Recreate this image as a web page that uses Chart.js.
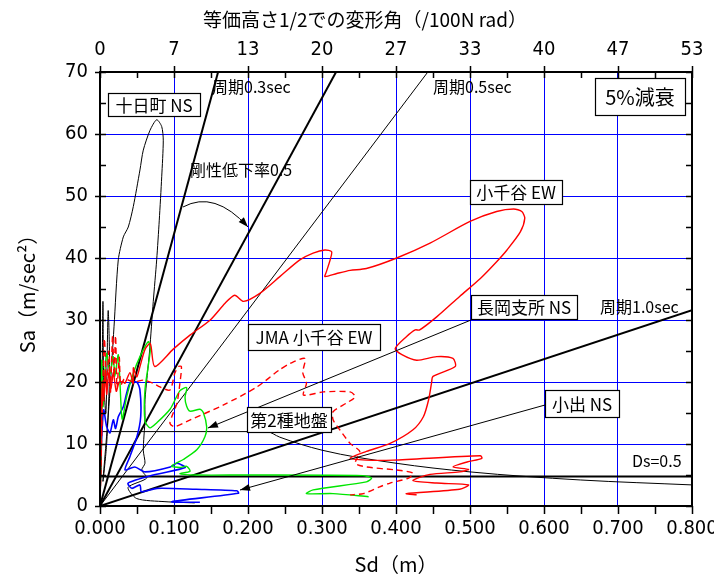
<!DOCTYPE html>
<html><head><meta charset="utf-8">
<script src="https://cdn.jsdelivr.net/npm/chart.js@4.4.1/dist/chart.umd.min.js"></script>
<style>html,body{margin:0;padding:0;background:#fff}canvas{display:block}</style>
</head><body>
<canvas id="c" width="714" height="576"></canvas>
<script>
// ---------- tick labels ----------
const topTickLabels = ['0','7','13','20','27','33','40','47','53'];

// ---------- response curves (Sd [m], Sa [m/s2]) ----------
const tokamachiNS = [[0,0],[0.002,8],[0.003,22],[0.004,33],[0.005,20],[0.008,15],[0.011,31.5],[0.013,22],[0.009,10],[0.004,4],[0.012,16],[0.019,29],[0.0247,39.7],[0.0315,43.4],[0.0382,45],[0.045,48.3],[0.054,54.2],[0.0585,57.4],[0.0676,60.6],[0.0766,62.3],[0.0834,61.2],[0.0855,59],[0.0834,53.1],[0.0801,46.1],[0.0766,39.7],[0.072,33],[0.067,25],[0.0608,17.1],[0.0608,13.9],[0.0585,9.0],[0.0608,6.9],[0.0564,5.8],[0.0631,4.5],[0.038,3.0],[0.0496,1.2],[0.0878,0.7],[0.128,0.5]];
const koideNS = [[0,0],[0,6],[0.002,10.6],[0.005,15.5],[0.009,12.8],[0.0135,11.8],[0.018,13.9],[0.021,12.5],[0.0247,14.4],[0.0315,16.0],[0.036,18.2],[0.0405,19.8],[0.0496,20.0],[0.054,18.7],[0.055,14.4],[0.05,11.2],[0.0405,8.0],[0.0338,5.8],[0.047,6.3],[0.061,5.5],[0.095,6.3],[0.104,6.9],[0.115,6.2],[0.072,5.0],[0.038,3.7],[0.043,2.85],[0.054,3.4],[0.056,2.3],[0.077,2.85],[0.13,2.7],[0.185,2.45],[0.187,2.05],[0.097,0.7],[0.135,0.6]];
const nagaokaNS = [[0,0],[0.001,8],[0.002,14],[0.0023,23.5],[0.004,16],[0.0068,21.9],[0.009,24.6],[0.0135,21.4],[0.018,24.1],[0.020,20.9],[0.0247,24.4],[0.027,19.8],[0.03,14],[0.036,17.6],[0.045,21.4],[0.054,24.1],[0.0653,26.5],[0.068,25.2],[0.0608,18.8],[0.0608,13.7],[0.0676,12.6],[0.0766,13.4],[0.0946,15.6],[0.1081,18.6],[0.1171,19.1],[0.1149,17.5],[0.1171,16.1],[0.1216,15.3],[0.1351,15.6],[0.1396,15.1],[0.1441,12.8],[0.1419,11.2],[0.1311,9.1],[0.1126,7.5],[0.0969,6.45],[0.1081,6.2],[0.1171,6.4],[0.1216,5.6],[0.1081,5.2],[0.13,5.0],[0.2,5.0],[0.355,4.9],[0.367,4.5],[0.36,3.9],[0.288,2.6],[0.279,2.0],[0.315,2.0],[0.363,1.5]];
const ojiyaEW = [[0,0],[0.001,8],[0.002,14],[0.003,20],[0.005,17],[0.007,22],[0.009,18],[0.012,21.5],[0.015,19],[0.018,21.5],[0.022,18.5],[0.026,20],[0.0315,20],[0.0338,19.8],[0.0405,21.5],[0.045,19.7],[0.0451,22.3],[0.0496,20.8],[0.054,22.5],[0.061,25.3],[0.068,26.2],[0.074,22.5],[0.099,25.3],[0.122,27.6],[0.149,30.0],[0.169,32.7],[0.182,34.0],[0.194,33.0],[0.216,34.3],[0.243,37.0],[0.270,39.7],[0.288,40.8],[0.304,41.3],[0.313,41.0],[0.311,39.7],[0.306,37.8],[0.304,37.0],[0.320,37.5],[0.338,38.0],[0.360,38.3],[0.401,40.0],[0.446,42.4],[0.5,45.9],[0.536,47.5],[0.559,47.9],[0.570,47.5],[0.574,46.4],[0.568,44.2],[0.550,41.3],[0.536,39.4],[0.514,36.7],[0.486,33.8],[0.455,30.5],[0.432,28.4],[0.426,28.4],[0.414,27.3],[0.399,25.4],[0.408,24.4],[0.428,23.5],[0.455,24.1],[0.477,23.8],[0.480,22.5],[0.450,20.9],[0.448,19.8],[0.444,17.1],[0.437,14.4],[0.423,12.3],[0.392,10.1],[0.360,8.8],[0.338,7.7],[0.360,7.4],[0.396,7.4],[0.514,8.1],[0.516,7.7],[0.496,7.1],[0.477,6.3],[0.498,5.9],[0.486,5.5],[0.446,5.1],[0.423,4.1],[0.455,3.7],[0.498,3.4],[0.486,2.7],[0.414,2.0],[0.428,1.8]];
const jmaOjiyaEW = [[0,0],[0.002,10],[0.004,20],[0.006,27],[0.009,19],[0.012,25],[0.014,18],[0.017,27.5],[0.019,21],[0.021,27.5],[0.023,19],[0.026,24],[0.028,19.5],[0.033,20.5],[0.045,20.0],[0.0585,20.3],[0.072,19.8],[0.081,19.2],[0.0946,18.7],[0.101,21.4],[0.106,22.5],[0.110,22.5],[0.108,19.8],[0.104,16.6],[0.097,14.4],[0.0946,13.3],[0.101,12.8],[0.122,13.9],[0.167,16.3],[0.212,19.2],[0.243,22.0],[0.257,23.0],[0.277,23.8],[0.274,21.5],[0.279,19.8],[0.275,17.9],[0.302,18.4],[0.338,18.4],[0.345,17.6],[0.333,16.6],[0.315,15.2],[0.315,13.9],[0.324,12.3],[0.338,10.1],[0.351,8.8],[0.345,6.9],[0.360,6.3],[0.401,5.8],[0.423,5.3],[0.417,4.5],[0.392,3.7],[0.378,3.1],[0.356,2.0],[0.338,1.8]];

// ---------- reference lines ----------
const period03 = [[0,0],[0.1596,70]];
const period03Reduced = [[0,0],[0.319,70]];
const period05 = [[0,0],[0.443,70]];
const period10 = [[0,0],[0.8,31.6]];
const soil2Ds05 = [[0,12],[0.225,12],[0.243,11.1],[0.3,9.0],[0.4,6.9],[0.5,5.5],[0.649,4.2],[0.8,3.4]];
const levelLine = [[0,4.75],[0.8,4.75]];

const pts = a => a.map(p => ({x:p[0], y:p[1]}));
const curve = (d, color, extra) => Object.assign({data: pts(d), showLine:true, pointRadius:0, borderColor:color, borderWidth:1.4, tension:0.25, fill:false}, extra||{});
const line = (d, w, extra) => Object.assign({data: pts(d), showLine:true, pointRadius:0, borderColor:'#000', borderWidth:w, tension:0, fill:false}, extra||{});

const JP = "'Noto Sans CJK JP', 'Noto Sans', sans-serif";
const NUM = "'Liberation Sans Narrow', 'DejaVu Sans Condensed', 'Liberation Sans', sans-serif";

// annotations (data coords)
const boxes = [
  {t:'十日町 NS', x:0.0730, y:64.76, w:92, h:23, size:17},
  {t:'5%減衰', x:0.7297, y:66.05, w:90, h:37, size:20},
  {t:'小千谷 EW', x:0.5622, y:50.65, w:92, h:24, size:17},
  {t:'長岡支所 NS', x:0.573, y:32.1, w:106, h:24, size:17},
  {t:'JMA 小千谷 EW', x:0.2892, y:27.26, w:132, h:26, size:17},
  {t:'第2種地盤', x:0.2554, y:13.95, w:84, h:25, size:17},
  {t:'小出 NS', x:0.6514, y:16.53, w:74, h:27, size:17}
];
const texts = [
  {t:'周期0.3sec', x:0.1514, y:67.58, size:16},
  {t:'周期0.5sec', x:0.45, y:67.58, size:16},
  {t:'剛性低下率0.5', x:0.1216, y:54.19, size:16},
  {t:'周期1.0sec', x:0.6757, y:32.1, size:16},
  {t:'Ds=0.5', x:0.7189, y:7.26, size:16}
];
const arrows = [
  {from:[0.5014,30.0], to:[0.1459,12.58]},
  {from:[0.6014,16.29], to:[0.1892,2.58]}
];
const arcArrow = {from:[0.1122,48.23], ctrl:[0.1547,50.97], to:[0.2,45.0]};
const topTitle = {t:'等価高さ1/2での変形角（/100N rad）', cx:365, cy:20, size:19};

function head(ctx, x0, y0, x1, y1) {
  const a = Math.atan2(y1-y0, x1-x0), L = 10, W = 3.5;
  ctx.beginPath();
  ctx.moveTo(x1, y1);
  ctx.lineTo(x1 - L*Math.cos(a) + W*Math.sin(a), y1 - L*Math.sin(a) - W*Math.cos(a));
  ctx.lineTo(x1 - L*Math.cos(a) - W*Math.sin(a), y1 - L*Math.sin(a) + W*Math.cos(a));
  ctx.closePath(); ctx.fill();
}

const extras = {
  id:'extras',
  afterDatasetsDraw(chart) {
    const ctx = chart.ctx, xs = chart.scales.x, ys = chart.scales.y;
    const X = v => xs.getPixelForValue(v), Y = v => ys.getPixelForValue(v);
    const a = chart.chartArea;
    ctx.save();
    // frame
    ctx.strokeStyle = '#000'; ctx.lineWidth = 2;
    ctx.strokeRect(a.left, a.top, a.right - a.left, a.bottom - a.top);
    ctx.lineWidth = 1.5;
    // ticks
    ctx.beginPath();
    for (let i = 0; i <= 16; i++) {
      const v = i * 0.05, px = Math.round(X(v)) + 0.5, major = i % 2 === 0;
      ctx.moveTo(px, a.bottom); ctx.lineTo(px, a.bottom + 8);
      ctx.moveTo(px, major ? a.top - 6 : a.top); ctx.lineTo(px, a.top + 6);
    }
    for (let i = 0; i <= 14; i++) {
      const v = i * 5, py = Math.round(Y(v)) + 0.5, major = i % 2 === 0;
      ctx.moveTo(major ? a.left - 5 : a.left, py); ctx.lineTo(a.left + 6, py);
      ctx.moveTo(a.right - 6, py); ctx.lineTo(a.right, py);
    }
    ctx.stroke();
    // arrows
    ctx.fillStyle = '#000'; ctx.strokeStyle = '#000'; ctx.lineWidth = 1;
    arrows.forEach(r => {
      const x0 = X(r.from[0]), y0 = Y(r.from[1]), x1 = X(r.to[0]), y1 = Y(r.to[1]);
      ctx.beginPath(); ctx.moveTo(x0, y0); ctx.lineTo(x1, y1); ctx.stroke();
      head(ctx, x0, y0, x1, y1);
    });
    {
      const x0 = X(arcArrow.from[0]), y0 = Y(arcArrow.from[1]);
      const cx = X(arcArrow.ctrl[0]), cy = Y(arcArrow.ctrl[1]);
      const x1 = X(arcArrow.to[0]), y1 = Y(arcArrow.to[1]);
      ctx.beginPath(); ctx.moveTo(x0, y0); ctx.quadraticCurveTo(cx, cy, x1, y1); ctx.stroke();
      head(ctx, cx, cy, x1, y1);
    }
    // boxes
    ctx.textAlign = 'center'; ctx.textBaseline = 'middle';
    boxes.forEach(b => {
      const cx = X(b.x), cy = Y(b.y);
      ctx.fillStyle = '#fff';
      ctx.fillRect(cx - b.w/2, cy - b.h/2, b.w, b.h);
      ctx.strokeStyle = '#000'; ctx.lineWidth = 1.2;
      ctx.strokeRect(Math.round(cx - b.w/2) + 0.5, Math.round(cy - b.h/2) + 0.5, b.w, b.h);
      ctx.fillStyle = '#000';
      ctx.font = b.size + 'px ' + JP;
      ctx.fillText(b.t, cx, cy + 1);
    });
    ctx.textAlign = 'left';
    texts.forEach(t => {
      ctx.fillStyle = '#000';
      ctx.font = t.size + 'px ' + JP;
      ctx.fillText(t.t, X(t.x), Y(t.y));
    });
    ctx.textAlign = 'center';
    ctx.font = topTitle.size + 'px ' + JP;
    ctx.fillText(topTitle.t, topTitle.cx, topTitle.cy);
    ctx.restore();
  }
};

const noPadX = s => { s.paddingLeft = 0; s.paddingRight = 0; };

new Chart(document.getElementById('c'), {
  type: 'scatter',
  data: { datasets: [
    curve(ojiyaEW, '#ff0000'),
    curve(jmaOjiyaEW, '#ff0000', {borderDash:[6,4]}),
    curve(nagaokaNS, '#00e600'),
    curve(koideNS, '#0000ff', {borderWidth:1.6}),
    curve(tokamachiNS, '#000000', {borderWidth:1}),
    line(period03, 2),
    line(period03Reduced, 2),
    line(period05, 1),
    line(period10, 2),
    line(soil2Ds05, 1, {cubicInterpolationMode:'monotone'}),
    line(levelLine, 2)
  ]},
  options: {
    responsive: false, animation: false,
    layout: { padding: { top: 0, right: 22, left: 0, bottom: 0 } },
    plugins: { legend: { display: false }, tooltip: { enabled: false } },
    scales: {
      x: {
        type: 'linear', position: 'bottom', min: 0, max: 0.8,
        afterFit: s => { s.height = 70; noPadX(s); },
        ticks: { stepSize: 0.1, callback: v => v.toFixed(3), color: '#000', padding: 11, maxRotation: 0, font: { family: NUM, size: 20 } },
        grid: { drawTicks: false, color: c => (c.tick && c.tick.value > 0.001 && c.tick.value < 0.799) ? '#0000ff' : 'rgba(0,0,0,0)', lineWidth: 1 },
        border: { display: false },
        title: { display: true, text: 'Sd（m）', color: '#000', font: { family: JP, size: 20 }, padding: { top: 0, bottom: 0 } }
      },
      x2: {
        type: 'linear', position: 'top', min: 0, max: 0.8,
        afterFit: s => { s.height = 72; noPadX(s); },
        ticks: { stepSize: 0.1, callback: (v, i) => topTickLabels[i], color: '#000', padding: 10, maxRotation: 0, font: { family: NUM, size: 20 } },
        grid: { display: false, drawTicks: false },
        border: { display: false },
        title: { display: false }
      },
      y: {
        type: 'linear', position: 'left', min: 0, max: 70,
        afterFit: s => { s.width = 100; s.paddingTop = 0; s.paddingBottom = 0; },
        ticks: { stepSize: 10, color: '#000', padding: 12, font: { family: NUM, size: 20 } },
        grid: { drawTicks: false, color: c => (c.tick && c.tick.value > 0.001 && c.tick.value < 69.9) ? '#0000ff' : 'rgba(0,0,0,0)', lineWidth: 1 },
        border: { display: false },
        title: { display: true, text: 'Sa（m/sec²）', color: '#000', font: { family: JP, size: 20 }, padding: { top: 15, bottom: 0 } }
      }
    }
  },
  plugins: [extras]
});
</script>
</body></html>
